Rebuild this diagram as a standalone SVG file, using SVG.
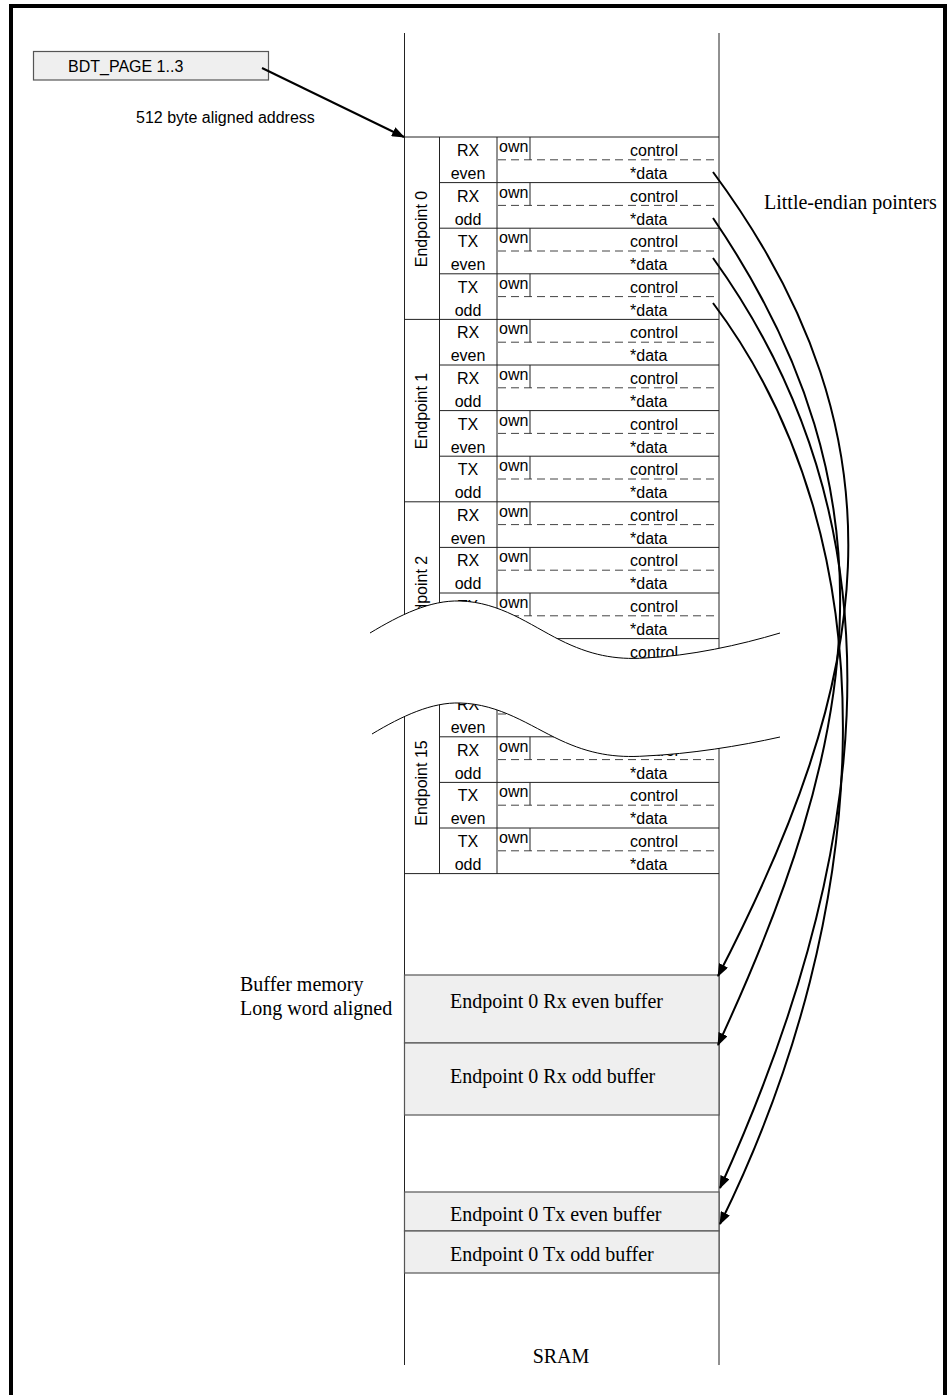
<svg xmlns="http://www.w3.org/2000/svg" width="948" height="1395" viewBox="0 0 948 1395">
<style>
.a{font-family:"Liberation Sans",Arial,sans-serif;font-size:16px;fill:#000}
.m{text-anchor:middle}
.s{font-family:"Liberation Serif","Times New Roman",serif;font-size:20px;fill:#000}
.ln{stroke:#222;stroke-width:1;fill:none}
.ds{stroke:#444;stroke-width:1;stroke-dasharray:8 5;fill:none}
.box{fill:#efefef;stroke:#555;stroke-width:1.2}
.cv{stroke:#000;stroke-width:2;fill:none}
.wv{stroke:#000;stroke-width:1;fill:none}
</style>
<defs>
<marker id="ah" markerUnits="userSpaceOnUse" markerWidth="13" markerHeight="10" refX="12" refY="5" orient="auto">
<path d="M0,0 L13,5 L0,10 z" fill="#000"/>
</marker>
</defs>
<rect x="0" y="0" width="948" height="1395" fill="#fff"/>
<rect x="11" y="6" width="934" height="1400" fill="none" stroke="#000" stroke-width="4"/>

<g id="bdt_page">
<rect x="33.5" y="51.5" width="235" height="28.5" class="box" stroke="#333"/>
<text x="68" y="72" class="a">BDT_PAGE 1..3</text>
</g>
<text x="136" y="123" class="a">512 byte aligned address</text>

<g id="sram">
<line x1="404.5" y1="33" x2="404.5" y2="1365" class="ln"/>
<line x1="719" y1="33" x2="719" y2="1365" class="ln"/>
<text x="561" y="1363" class="s m">SRAM</text>
</g>

<g id="bdt_table">
<line x1="439.5" y1="137" x2="439.5" y2="874" class="ln"/>
<line x1="497" y1="137" x2="497" y2="874" class="ln"/>
<line x1="404.5" y1="137" x2="719" y2="137" class="ln"/>
<line x1="404.5" y1="319.4" x2="719" y2="319.4" class="ln"/>
<line x1="404.5" y1="501.8" x2="719" y2="501.8" class="ln"/>
<line x1="404.5" y1="684.2" x2="719" y2="684.2" class="ln"/>
<line x1="404.5" y1="691.2" x2="719" y2="691.2" class="ln"/>
<line x1="404.5" y1="873.6" x2="719" y2="873.6" class="ln"/>
<path class="ln" d="M439.5,182.6H719M439.5,228.2H719M439.5,273.8H719M439.5,365H719M439.5,410.6H719M439.5,456.2H719M439.5,547.4H719M439.5,593H719M439.5,638.6H719M439.5,736.8H719M439.5,782.4H719M439.5,828H719"/>
<path class="ds" d="M498,159.8H719M498,205.4H719M498,251H719M498,296.6H719M498,342.2H719M498,387.8H719M498,433.4H719M498,479H719M498,524.6H719M498,570.2H719M498,615.8H719M498,661.4H719M498,714H719M498,759.6H719M498,805.2H719M498,850.8H719"/>
<path class="ln" d="M530,137V159.8M530,182.6V205.4M530,228.2V251M530,273.8V296.6M530,319.4V342.2M530,365V387.8M530,410.6V433.4M530,456.2V479M530,501.8V524.6M530,547.4V570.2M530,593V615.8M530,638.6V661.4M530,691.2V714M530,736.8V759.6M530,782.4V805.2M530,828V850.8"/>

<g id="ep_labels" class="a m">
<text transform="translate(427,229) rotate(-90)">Endpoint 0</text>
<text transform="translate(427,411) rotate(-90)">Endpoint 1</text>
<text transform="translate(427,594) rotate(-90)">Endpoint 2</text>
<text transform="translate(427,783) rotate(-90)">Endpoint 15</text>
</g>

<g id="dir_labels" class="a m">
<text x="468" y="156">RX</text><text x="468" y="179">even</text>
<text x="468" y="201.6">RX</text><text x="468" y="224.6">odd</text>
<text x="468" y="247.2">TX</text><text x="468" y="270.2">even</text>
<text x="468" y="292.8">TX</text><text x="468" y="315.8">odd</text>
<text x="468" y="338.4">RX</text><text x="468" y="361.4">even</text>
<text x="468" y="384">RX</text><text x="468" y="407">odd</text>
<text x="468" y="429.6">TX</text><text x="468" y="452.6">even</text>
<text x="468" y="475.2">TX</text><text x="468" y="498.2">odd</text>
<text x="468" y="520.8">RX</text><text x="468" y="543.8">even</text>
<text x="468" y="566.4">RX</text><text x="468" y="589.4">odd</text>
<text x="468" y="612">TX</text><text x="468" y="635">even</text>
<text x="468" y="657.6">TX</text><text x="468" y="680.6">odd</text>
<text x="468" y="710.2">RX</text><text x="468" y="733.2">even</text>
<text x="468" y="755.8">RX</text><text x="468" y="778.8">odd</text>
<text x="468" y="801.4">TX</text><text x="468" y="824.4">even</text>
<text x="468" y="847">TX</text><text x="468" y="870">odd</text>
</g>

<g id="own_labels" class="a">
<text x="499" y="152">own</text>
<text x="499" y="197.6">own</text>
<text x="499" y="243.2">own</text>
<text x="499" y="288.8">own</text>
<text x="499" y="334.4">own</text>
<text x="499" y="380">own</text>
<text x="499" y="425.6">own</text>
<text x="499" y="471.2">own</text>
<text x="499" y="516.8">own</text>
<text x="499" y="562.4">own</text>
<text x="499" y="608">own</text>
<text x="499" y="653.6">own</text>
<text x="499" y="706.2">own</text>
<text x="499" y="751.8">own</text>
<text x="499" y="797.4">own</text>
<text x="499" y="843">own</text>
</g>

<g id="field_labels" class="a">
<text x="630" y="156">control</text><text x="630" y="179">*data</text>
<text x="630" y="201.6">control</text><text x="630" y="224.6">*data</text>
<text x="630" y="247.2">control</text><text x="630" y="270.2">*data</text>
<text x="630" y="292.8">control</text><text x="630" y="315.8">*data</text>
<text x="630" y="338.4">control</text><text x="630" y="361.4">*data</text>
<text x="630" y="384">control</text><text x="630" y="407">*data</text>
<text x="630" y="429.6">control</text><text x="630" y="452.6">*data</text>
<text x="630" y="475.2">control</text><text x="630" y="498.2">*data</text>
<text x="630" y="520.8">control</text><text x="630" y="543.8">*data</text>
<text x="630" y="566.4">control</text><text x="630" y="589.4">*data</text>
<text x="630" y="612">control</text><text x="630" y="635">*data</text>
<text x="630" y="657.6">control</text><text x="630" y="680.6">*data</text>
<text x="630" y="710.2">control</text><text x="630" y="733.2">*data</text>
<text x="630" y="755.8">control</text><text x="630" y="778.8">*data</text>
<text x="630" y="801.4">control</text><text x="630" y="824.4">*data</text>
<text x="630" y="847">control</text><text x="630" y="870">*data</text>
</g>
</g>

<g id="break">
<path fill="#fff" stroke="none" d="M370,633 C400,615 430,600 460,601 C500,602 530,625 560,640 C590,655 615,660 645,658 C690,656 740,645 780,633 L780,737 C740,746 690,754 645,756 C615,758 590,754 560,740 C530,726 500,704 460,703 C432,702 402,716 372,734 Z"/>
<path class="wv" d="M370,633 C400,615 430,600 460,601 C500,602 530,625 560,640 C590,655 615,660 645,658 C690,656 740,645 780,633"/>
<path class="wv" d="M372,734 C402,716 432,702 460,703 C500,704 530,726 560,740 C590,754 615,758 645,756 C690,754 740,746 780,737"/>
</g>

<g id="buffers">
<g id="rx_even_buf"><rect x="404.5" y="975" width="314.5" height="68" class="box"/><text x="450" y="1008" class="s">Endpoint 0 Rx even buffer</text></g>
<g id="rx_odd_buf"><rect x="404.5" y="1043" width="314.5" height="72" class="box"/><text x="450" y="1083" class="s">Endpoint 0 Rx odd buffer</text></g>
<g id="tx_even_buf"><rect x="404.5" y="1192" width="314.5" height="39" class="box" stroke="#222"/><text x="450" y="1221" class="s">Endpoint 0 Tx even buffer</text></g>
<g id="tx_odd_buf"><rect x="404.5" y="1231" width="314.5" height="42" class="box"/><text x="450" y="1261" class="s">Endpoint 0 Tx odd buffer</text></g>
</g>

<text x="240" y="991" class="s" font-size="18">Buffer memory</text>
<text x="240" y="1015" class="s" font-size="18">Long word aligned</text>
<text x="764" y="209" class="s">Little-endian pointers</text>

<g id="connectors">
<line x1="262" y1="68" x2="404" y2="137" class="cv" marker-end="url(#ah)"/>
<path class="cv" marker-end="url(#ah)" d="M713,172 C915,445 869,684 718,976"/>
<path class="cv" marker-end="url(#ah)" d="M713,218 C905,500 857,745 718,1045"/>
<path class="cv" marker-end="url(#ah)" d="M713,258 C920,545 860,880 720,1188"/>
<path class="cv" marker-end="url(#ah)" d="M713,303 C895,545 875,910 720,1224"/>
</g>
</svg>
